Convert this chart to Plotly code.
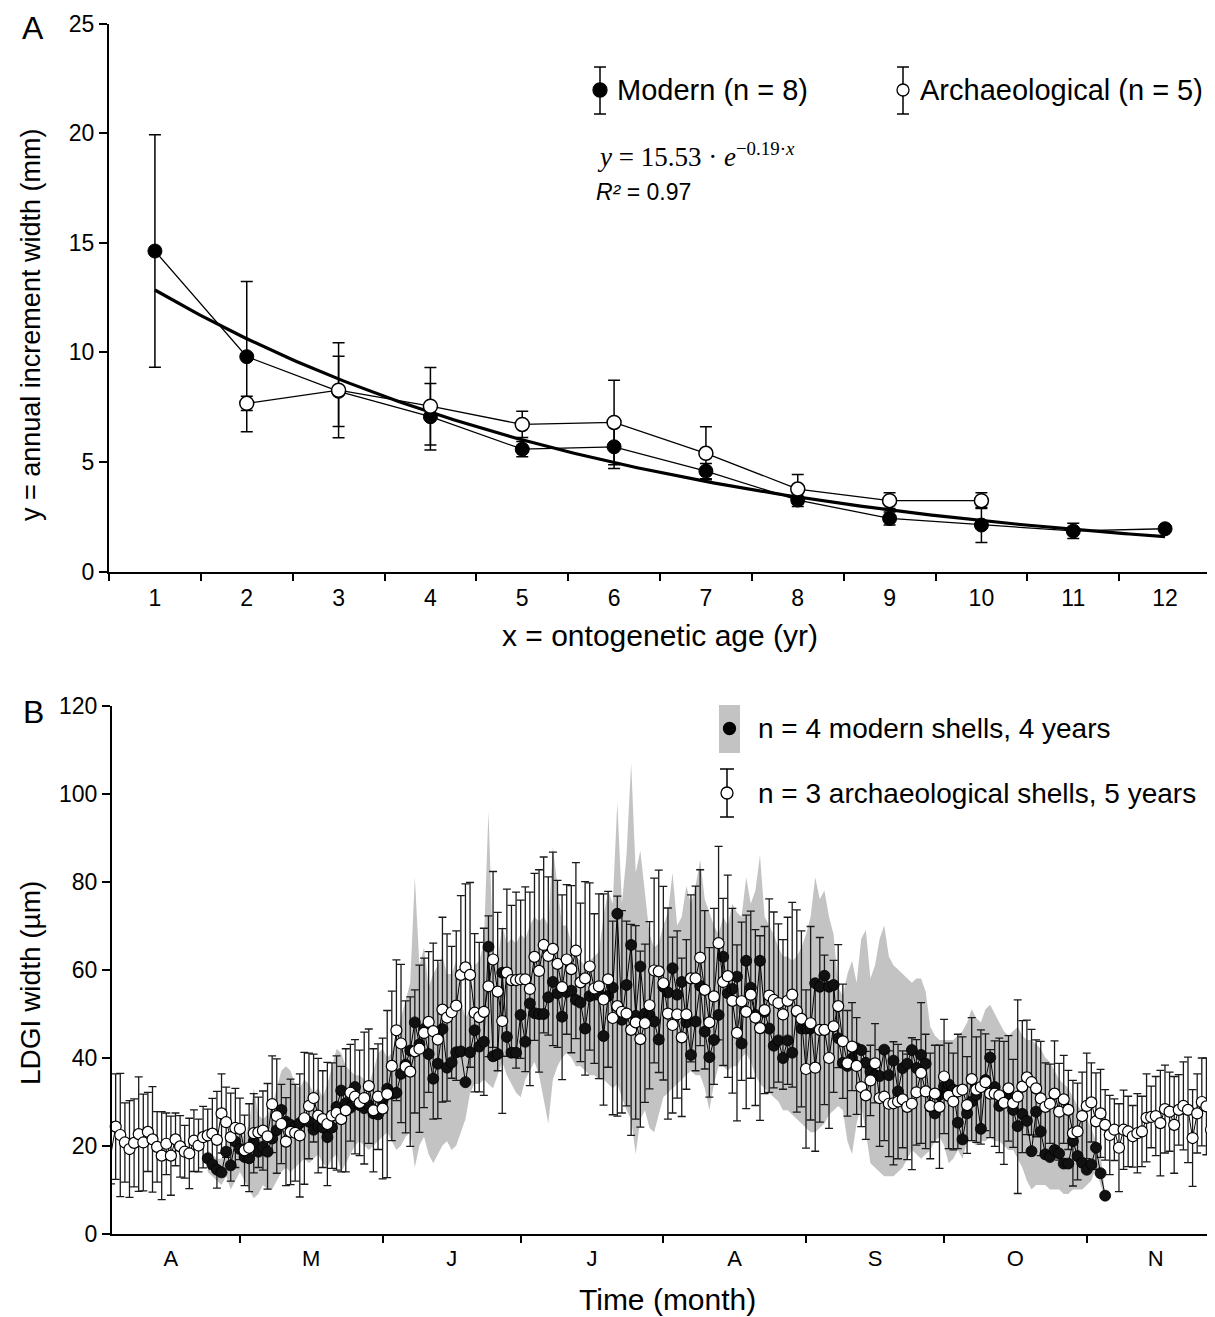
import numpy as np
import plotly.graph_objects as go

# reference canvas is 1215x1317; the page body adds an 8px margin,
# so the figure itself is drawn 8px smaller and all reference pixel
# positions are shifted by 8px when converted to paper fractions.
OFF = 8
W, H = 1215 - OFF, 1317 - OFF

# ---------------- Panel A data ----------------
age = list(range(1, 13))
modern_a = [14.62, 9.8, 8.22, 7.06, 5.58, 5.69, 4.58, 3.26, 2.42, 2.12, 1.85, 1.95]
modern_a_err = [5.3, 3.43, 1.6, 1.52, 0.35, 0.99, 0.35, 0.3, 0.3, 0.8, 0.35, 0.12]
arch_age = list(range(2, 11))
arch_a = [7.67, 8.27, 7.54, 6.71, 6.8, 5.39, 3.76, 3.23, 3.23]
arch_a_err = [0.33, 2.17, 1.77, 0.6, 1.93, 1.21, 0.67, 0.36, 0.36]
fit_a, fit_b = 15.53, -0.19  # y = 15.53 * exp(-0.19 x)
age_ticks = [1, 2, 3, 4, 5, 6, 7, 8, 9, 10, 11, 12]

# ---------------- Panel B data ----------------
# day index: 0 = 1 April
month_labels = ["A", "M", "J", "J", "A", "S", "O", "N"]
month_starts = [0, 30, 61, 91, 122, 153, 183, 214, 244]

arch_first_day = 2
arch_b = [
    18.3, 24.3, 22.4, 20.7, 19.2, 20.6, 22.6, 20.7, 23.1, 21.4,
    19.7, 17.7, 20.4, 17.7, 21.4, 19.8, 18.6, 18.2, 21.1, 20.0,
    21.9, 22.3, 22.7, 21.3, 27.3, 25.3, 21.9, 24.0, 23.8, 18.9,
    19.5, 22.8, 23.0, 23.4, 22.1, 29.4, 26.7, 24.9, 20.9, 23.1,
    22.9, 22.3, 26.2, 29.0, 30.8, 26.8, 26.0, 24.9, 26.8, 27.4,
    26.0, 28.0, 32.0, 31.1, 29.7, 30.8, 33.5, 28.0, 31.1, 28.4,
    31.7, 38.1, 46.2, 43.2, 37.9, 36.8, 41.4, 42.0, 45.6, 48.1,
    46.0, 44.1, 50.9, 49.1, 50.3, 51.8, 58.8, 60.5, 58.8, 50.2,
    49.2,
    50.4, 56.2, 62.3, 55.0, 48.3, 59.3, 57.6, 57.6, 57.8, 57.8,
    55.6, 62.9, 59.7, 65.6, 63.1, 64.7, 61.3, 56.0, 62.3, 60.1,
    64.3, 57.1, 58.0, 60.7, 55.7, 56.2, 53.2, 57.8, 49.0, 51.7,
    50.4, 50.0, 46.3, 48.0, 44.2, 47.8, 51.9, 59.8, 59.6, 56.9,
    50.0, 47.4, 49.8, 44.6, 49.8, 58.0, 58.0, 62.7, 55.4, 48.0,
    53.9, 66.0, 57.2, 58.5, 52.9, 45.6, 52.8, 50.4, 54.3, 49.1,
    46.7, 50.8, 54.1, 53.1, 52.4, 49.8, 52.9, 54.3, 50.6, 48.8,
    37.4, 47.8, 37.7, 46.3, 46.3, 39.9, 47.1, 51.7, 43.7, 38.7,
    42.5, 38.1, 33.3, 31.4, 34.8, 38.7, 30.8, 31.1, 29.5, 29.6,
    30.0, 30.5, 28.8, 29.5, 32.1, 36.5, 32.3, 29.0, 31.8, 28.8,
    35.7, 31.3, 30.0, 32.3, 32.7, 29.2, 35.1, 32.7, 33.3, 34.4,
    31.8, 31.8, 31.4, 29.7, 33.0, 29.6, 31.1, 33.4, 35.5, 34.4,
    33.0, 30.7, 28.8, 29.5, 31.8, 27.7, 30.5, 28.1, 22.8, 23.2,
    26.7, 29.0, 29.8, 25.5, 27.3, 24.7, 22.4, 23.6, 19.5, 23.6,
    23.2, 22.1, 22.8, 23.2, 26.3, 26.5, 26.7, 25.1, 28.3, 27.7,
    24.7, 28.1, 29.0, 28.1, 21.7, 27.3, 29.9, 28.9, 23.6,
]
arch_b_sd = [
    7, 12, 14, 9, 11, 10, 13, 11, 9, 12,
    8, 10, 7, 9, 6, 7, 6, 8, 7, 6,
    7, 6, 8, 11, 9, 8, 10, 9, 7, 8,
    10, 9, 8, 9, 12, 11, 13, 9, 10, 12,
    11, 14, 15, 12, 10, 13, 11, 14, 12, 13,
    12, 14, 11, 13, 12, 15, 13, 14, 12, 16,
    19, 17, 16, 18, 15, 17, 14, 19, 17, 16,
    20, 18, 21, 19, 15, 17, 18, 19, 21, 18,
    17, 19, 16, 20, 18, 21, 19, 17, 20, 18,
    21, 22, 19, 23, 20, 18, 22, 19, 21, 17,
    19, 20, 18, 22, 19, 17, 21, 24, 20, 22,
    25, 23, 21, 24, 22, 20, 18, 19, 21, 23,
    22, 24, 20, 19, 18, 17, 19, 21, 20, 18,
    17, 20, 22, 19, 23, 21, 20, 18, 22, 19,
    20, 21, 19, 22, 20, 18, 17, 19, 21, 23,
    20, 18, 22, 19, 21, 17, 16, 15, 14, 13,
    12, 10, 11, 9, 10, 8, 9, 11, 10, 12,
    14, 13, 11, 12, 15, 12, 16, 13, 12, 11,
    14, 13, 12, 11, 13, 12, 11, 14, 12, 13,
    11, 10, 12, 13, 14, 12, 10, 22, 15, 13,
    12, 11, 13, 10, 9, 12, 11, 10, 9, 12,
    11, 10, 12, 9, 11, 10, 8, 9, 7, 10,
    9, 8, 7, 9, 8, 10, 7, 9, 12, 10,
    9, 11, 8, 10, 12, 11, 9, 10, 11, 12,
]

modern_first_day = 23
modern_b = [
    17.1, 15.7, 14.5, 13.9, 18.6, 15.5, 20.9, 19.2, 17.4, 17.1,
    20.9, 18.6, 19.7, 18.6, 21.6, 23.5, 28.1, 25.4, 24.7, 24.3,
    25.1, 26.0, 25.4, 23.6, 24.4, 24.1, 21.9, 24.1, 28.8, 32.5,
    29.6, 28.6, 33.3, 29.2, 28.5, 29.2, 27.3, 27.1, 30.3, 32.9,
    31.8, 32.0, 36.3, 38.4, 41.6, 48.0, 43.0, 46.5, 40.8, 35.2,
    38.6, 46.5, 37.7, 38.9, 41.2, 41.4, 34.4, 41.2,
    46.2, 42.5, 43.6, 65.2, 40.3, 40.8, 59.3, 44.7, 41.1, 41.1,
    49.7, 43.6, 52.3, 50.1, 49.9, 49.9, 53.7, 57.2, 54.6, 49.3,
    54.9, 55.2, 53.1, 52.5, 46.6, 54.0, 54.3, 54.3, 44.9, 54.0,
    55.9, 72.7, 48.6, 56.5, 65.6, 49.5, 60.7, 50.0, 49.7, 48.2,
    44.1, 56.1, 54.8, 60.3, 54.3, 57.2, 48.0, 40.6, 48.2, 56.3,
    45.9, 40.1, 44.0, 49.7, 62.9, 54.6, 55.6, 58.4, 43.2, 62.0,
    55.9, 49.7, 62.0, 50.4, 46.6, 42.7, 43.9, 39.9, 43.9, 41.1,
    50.4, 46.6, 46.6, 46.6, 56.9, 56.1, 58.6, 56.1, 56.5,
    44.4, 38.8, 38.1, 39.8, 42.1, 41.7, 38.8, 36.8, 36.0, 35.8,
    41.8, 36.0, 39.3, 32.3, 37.6, 38.6, 41.7, 37.6, 40.6, 38.6,
    28.8, 27.3, 31.5, 33.4, 33.9, 32.7, 25.2, 21.4, 27.3, 30.0,
    31.5, 23.8, 34.9, 40.0, 33.3, 29.0, 30.0, 31.0, 28.1, 24.4,
    27.2, 25.6, 18.7, 27.7, 23.2, 18.0, 17.4, 19.0, 18.2, 15.9,
    15.9, 21.0, 17.6, 16.1, 14.5, 15.7, 19.5, 13.7, 8.6,
]
modern_b_upper = [
    19, 18, 17, 17, 21, 23, 25, 23, 22, 25,
    33, 27, 26, 27, 29, 33, 37, 38, 37, 34,
    33, 35, 34, 32, 33, 31, 34, 38, 42, 41,
    38, 37, 36, 36, 35, 34, 37, 41, 42, 40,
    41, 45, 49, 53, 57, 81, 61, 65, 56, 59,
    61, 63, 59, 59, 62, 53, 49, 51,
    61, 62, 66, 96, 64, 62, 70, 66, 67, 66,
    68, 67, 70, 72, 71, 72, 70, 88, 79, 70,
    70, 66, 63, 62, 61, 62, 63, 64, 72, 78,
    75, 98, 75, 86, 107, 82, 87, 78, 68, 65,
    66, 70, 73, 82, 70, 72, 79, 75, 79, 85,
    76, 73, 70, 68, 72, 70, 75, 73, 72, 81,
    75, 78, 86, 72, 70, 68, 65, 63, 63, 62,
    63, 65, 68, 72, 81, 76, 78, 72, 68,
    56, 54, 59, 62, 57, 67, 69, 58, 61, 67,
    70, 63, 61, 60, 59, 58, 57, 58, 58, 55,
    47, 45, 44, 44, 44, 44, 45, 46, 48, 51,
    49, 48, 51, 52, 50, 48, 46, 45, 46, 47,
    45, 44, 44, 43, 42, 40, 39, 37, 35, 34,
    33, 31, 29, 28, 26, 24, 21, 18, 9,
]
modern_b_lower = [
    14, 13, 12, 11, 13, 10, 12, 14, 12, 10,
    8, 9, 11, 10, 10, 12, 14, 15, 14, 15,
    16, 17, 16, 17, 18, 16, 15, 17, 18, 14,
    16, 18, 20, 21, 20, 19, 20, 21, 22, 23,
    21, 19, 20, 22, 23, 15, 20, 22, 18, 16,
    18, 20, 21, 19, 20, 23, 26, 32,
    34, 34, 35, 34, 33, 36, 39, 36, 34, 32,
    31, 35, 37, 39, 36, 31, 25, 35, 38, 40,
    41, 40, 38, 38, 37, 36, 36, 35, 35, 34,
    33, 34, 31, 28, 26, 18, 26, 28, 24, 23,
    27, 31, 32, 33, 34, 35, 36, 37, 36, 36,
    33, 28, 34, 38, 38, 37, 38, 38, 40, 41,
    39, 36, 34, 33, 32, 31, 30, 28, 28, 27,
    26, 25, 24, 23, 23, 24, 25, 27, 28,
    29, 28, 21, 18, 25, 29, 23, 16, 15, 14,
    13, 13, 13, 14, 15, 17, 19, 18, 17, 18,
    19, 21, 22, 20, 16, 17, 19, 17, 21, 21,
    20, 21, 21, 22, 21, 21, 20, 19, 19, 17,
    15, 12, 10, 11, 11, 11, 10, 10, 10, 9,
    9, 10, 10, 10, 11, 12, 15, 11, 8,
]

arch_days = list(range(arch_first_day, arch_first_day + len(arch_b)))
modern_days = list(range(modern_first_day, modern_first_day + len(modern_b)))

# ---------------- helpers ----------------
def px(x):
    return (x - OFF) / W


def py(y):
    return 1 - (y - OFF) / H


FONT = "Liberation Sans, Arial, sans-serif"
SERIF = "Liberation Serif, Times New Roman, serif"

fig = go.Figure()

# ---------------- Panel A traces ----------------
fit_x = np.linspace(age[0], age[-1], 200)
fig.add_trace(go.Scatter(x=fit_x, y=fit_a * np.exp(fit_b * fit_x), mode="lines",
                         line=dict(color="black", width=3.2), xaxis="x", yaxis="y",
                         hoverinfo="skip"))
fig.add_trace(go.Scatter(x=age, y=modern_a, mode="lines+markers",
                         line=dict(color="black", width=1.3),
                         marker=dict(color="black", size=14, line=dict(color="black", width=1)),
                         error_y=dict(type="data", array=modern_a_err, color="black",
                                      thickness=1.5, width=6),
                         xaxis="x", yaxis="y"))
fig.add_trace(go.Scatter(x=arch_age, y=arch_a, mode="lines+markers",
                         line=dict(color="black", width=1.3),
                         marker=dict(color="white", size=14, line=dict(color="black", width=1.5)),
                         error_y=dict(type="data", array=arch_a_err, color="black",
                                      thickness=1.5, width=6),
                         xaxis="x", yaxis="y"))

# ---------------- Panel B traces ----------------
band_x = modern_days + modern_days[::-1]
band_y = modern_b_upper + modern_b_lower[::-1]
fig.add_trace(go.Scatter(x=band_x, y=band_y, fill="toself", mode="lines",
                         fillcolor="#c3c3c3", line=dict(width=0, color="#c3c3c3"),
                         xaxis="x2", yaxis="y2", hoverinfo="skip"))
fig.add_trace(go.Scatter(x=arch_days, y=arch_b, mode="markers",
                         marker=dict(size=1, color="rgba(0,0,0,0)"),
                         error_y=dict(type="data", array=arch_b_sd, color="#1a1a1a",
                                      thickness=1.3, width=4),
                         xaxis="x2", yaxis="y2", cliponaxis=False))
fig.add_trace(go.Scatter(x=modern_days, y=modern_b, mode="lines+markers",
                         line=dict(color="black", width=1),
                         marker=dict(color="#111111", size=11, line=dict(color="black", width=0.8)),
                         xaxis="x2", yaxis="y2"))
fig.add_trace(go.Scatter(x=arch_days, y=arch_b, mode="lines+markers",
                         line=dict(color="black", width=1),
                         marker=dict(color="white", size=11, line=dict(color="black", width=1.2)),
                         xaxis="x2", yaxis="y2", cliponaxis=False))

# ---------------- axes ----------------
axis_common = dict(showgrid=False, zeroline=False, showline=True, linecolor="black",
                   linewidth=2, tickcolor="black", tickwidth=2, automargin=False,
                   tickfont=dict(family=FONT, size=23, color="black"))

month_mids = [(month_starts[i] + month_starts[i + 1]) / 2 for i in range(len(month_labels))]

fig.update_layout(
    width=W, height=H, plot_bgcolor="white", paper_bgcolor="white",
    margin=dict(l=0, r=0, t=0, b=0, pad=0, autoexpand=False), showlegend=False,
    xaxis=dict(**axis_common, domain=[px(109), px(1211)], range=[0.5, 12.5],
               tickmode="array", tickvals=age_ticks, ticktext=[str(a) for a in age_ticks],
               ticks="", ticklabelstandoff=5,
               minor=dict(tickmode="array", tickvals=[a - 0.5 for a in age_ticks] + [12.5],
                          ticks="outside", ticklen=7, tickwidth=2, tickcolor="black"),
               anchor="y"),
    yaxis=dict(**axis_common, domain=[py(571.5), py(23.5)], range=[0, 25],
               tickmode="array", tickvals=[0, 5, 10, 15, 20, 25], ticks="outside",
               ticklen=8, anchor="x"),
    xaxis2=dict(**axis_common, domain=[px(112), px(1211)], range=[2.2, 241],
                tickmode="array", tickvals=month_mids, ticktext=month_labels,
                ticks="", ticklabelstandoff=4,
                minor=dict(tickmode="array", tickvals=month_starts[1:-1],
                           ticks="outside", ticklen=7, tickwidth=2, tickcolor="black"),
                anchor="y2"),
    yaxis2=dict(**axis_common, domain=[py(1233.5), py(705.7)], range=[0, 120],
                tickmode="array", tickvals=[0, 20, 40, 60, 80, 100, 120], ticks="outside",
                ticklen=8, anchor="x2"),
)
fig.update_xaxes(tickfont=dict(size=22), selector=dict(anchor="y2"))

# ---------------- annotations ----------------
ann = []


def text(x, y, s, size, family=FONT, xanchor="center", angle=0):
    ann.append(dict(x=px(x), y=py(y), xref="paper", yref="paper", text=s, showarrow=False,
                    xanchor=xanchor, yanchor="middle", textangle=angle,
                    font=dict(family=family, size=size, color="black")))


text(33, 28, "A", 32)
text(33, 712, "B", 32)
text(31, 325, "y = annual increment width (mm)", 27, angle=-90)
text(660, 636, "x = ontogenetic age (yr)", 30)
text(31, 983, "LDGI width (µm)", 28, angle=-90)
text(667, 1299, "Time (month)", 30)

text(615, 90, "Modern (n = 8)", 29, xanchor="left")
text(918, 90, "Archaeological (n = 5)", 29, xanchor="left")
text(595, 155, "<i>y</i> = 15.53 · <i>e</i><sup>−0.19·<i>x</i></sup>", 27, SERIF, xanchor="left")
text(594, 192, "<i>R²</i> = 0.97", 23, FONT, xanchor="left")

text(756, 728, "n = 4 modern shells, 4 years", 28, xanchor="left")
text(756, 793, "n = 3 archaeological shells, 5 years", 28, xanchor="left")

fig.update_layout(annotations=ann)

# ---------------- legend glyphs (shapes) ----------------
shapes = []


def line(x0, y0, x1, y1, w=1.5):
    shapes.append(dict(type="line", xref="paper", yref="paper", x0=px(x0), y0=py(y0),
                       x1=px(x1), y1=py(y1), line=dict(color="black", width=w)))


def circle(cx, cy, r, fill):
    shapes.append(dict(type="circle", xref="paper", yref="paper", x0=px(cx - r), x1=px(cx + r),
                       y0=py(cy + r), y1=py(cy - r), fillcolor=fill,
                       line=dict(color="black", width=1.3)))


def errglyph(cx, cy, top, bottom, r, fill, cap=6):
    line(cx, top, cx, bottom)
    line(cx - cap, top, cx + cap, top)
    line(cx - cap, bottom, cx + cap, bottom)
    circle(cx, cy, r, fill)


errglyph(600, 90, 67, 114, 7, "black")
errglyph(903, 90, 67, 114, 6, "white")

shapes.append(dict(type="rect", xref="paper", yref="paper", x0=px(719), x1=px(740),
                   y0=py(753), y1=py(705), fillcolor="#c3c3c3", line=dict(width=0)))
circle(729.5, 728.5, 6, "black")
errglyph(727, 793, 769, 817, 6, "white", cap=7)

fig.update_layout(shapes=shapes)

fig.write_html("out.html")
